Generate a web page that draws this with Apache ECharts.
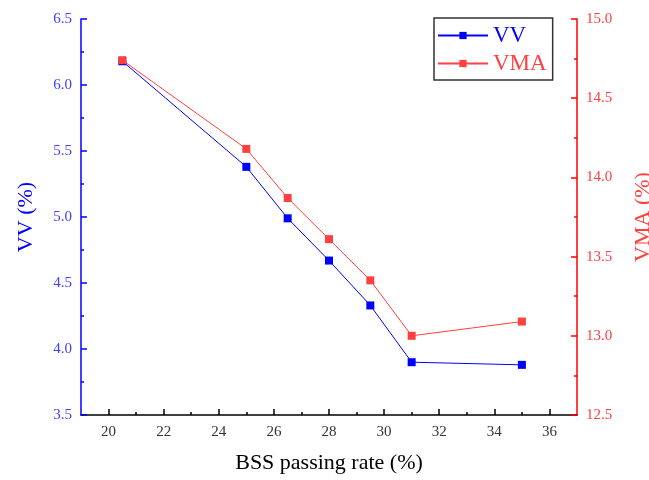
<!DOCTYPE html>
<html>
<head>
<meta charset="utf-8">
<script src="https://cdn.jsdelivr.net/npm/echarts@6/dist/echarts.min.js"></script>
<style>
  html, body { margin: 0; padding: 0; background: #fff; }
  #chart { width: 649px; height: 480px; }
</style>
</head>
<body>
<div id="chart"></div>
<script>
// BSS passing rate (%) and the two measured series
const passRate = [20.5, 25, 26.5, 28, 29.5, 31, 35]
const vv = [6.18, 5.38, 4.99, 4.67, 4.33, 3.90, 3.88]
const vma = [14.74, 14.18, 13.87, 13.61, 13.35, 13.00, 13.09]

const xMajor = [20, 22, 24, 26, 28, 30, 32, 34, 36]
const xMinor = [21, 23, 25, 27, 29, 31, 33, 35]

const BLUE = '#0000ff'
const RED = '#ff4040'
const serif = 'Liberation Serif'

const chart = echarts.init(document.getElementById('chart'))

const pairs = (ys) => passRate.map((x, i) => [x, ys[i]])

chart.setOption({
  animation: false,
  grid: { left: 81, right: 72, top: 19, bottom: 65, containLabel: false, outerBoundsMode: 'none' },
  legend: {
    orient: 'vertical',
    left: 434,
    top: 18,
    itemWidth: 50,
    itemHeight: 9,
    itemGap: 5,
    padding: [6, 6, 5, 3],
    borderColor: '#333',
    borderWidth: 1.5,
    textStyle: { fontFamily: serif, fontSize: 23 },
    data: [
      { name: 'VV', textStyle: { color: BLUE } },
      { name: 'VMA', textStyle: { color: RED } }
    ]
  },
  xAxis: [
    {
      type: 'value',
      min: 19,
      max: 37,
      name: 'BSS passing rate (%)',
      nameLocation: 'middle',
      nameGap: 37,
      nameTextStyle: { fontFamily: serif, fontSize: 22, color: '#000' },
      axisLine: { lineStyle: { color: '#000', width: 1.5 } },
      axisTick: { inside: true, length: 6, customValues: xMajor, lineStyle: { color: '#000', width: 1.5 } },
      axisLabel: { customValues: xMajor, fontFamily: serif, fontSize: 15, color: '#333', margin: 10 },
      splitLine: { show: false }
    },
    {
      type: 'value',
      min: 19,
      max: 37,
      position: 'bottom',
      axisLine: { show: false },
      axisTick: { inside: true, length: 3, customValues: xMinor, lineStyle: { color: '#000', width: 1.5 } },
      axisLabel: { show: false },
      splitLine: { show: false }
    }
  ],
  yAxis: [
    {
      type: 'value',
      position: 'left',
      min: 3.5,
      max: 6.5,
      interval: 0.5,
      name: 'VV (%)',
      nameLocation: 'middle',
      nameRotate: 90,
      nameGap: 44,
      nameTextStyle: { fontFamily: serif, fontSize: 22, color: BLUE },
      axisLine: { show: true, lineStyle: { color: BLUE, width: 1.5 } },
      axisTick: { inside: true, length: 6, lineStyle: { color: BLUE, width: 1.5 } },
      minorTick: { show: true, splitNumber: 2, length: 3, lineStyle: { color: BLUE, width: 1.5 } },
      axisLabel: { fontFamily: serif, fontSize: 15, color: '#4040ff', margin: 9, formatter: v => v.toFixed(1) },
      splitLine: { show: false }
    },
    {
      type: 'value',
      position: 'right',
      min: 12.5,
      max: 15,
      interval: 0.5,
      name: 'VMA (%)',
      nameLocation: 'middle',
      nameRotate: 90,
      nameGap: 55,
      nameTextStyle: { fontFamily: serif, fontSize: 22, color: RED },
      axisLine: { show: true, lineStyle: { color: '#ff0000', width: 1.5 } },
      axisTick: { inside: true, length: 6, lineStyle: { color: '#ff0000', width: 1.5 } },
      minorTick: { show: true, splitNumber: 2, length: 3, lineStyle: { color: '#ff0000', width: 1.5 } },
      axisLabel: { fontFamily: serif, fontSize: 15, color: '#ff4040', margin: 9, formatter: v => v.toFixed(1) },
      splitLine: { show: false }
    }
  ],
  series: [
    {
      name: 'VV',
      type: 'line',
      xAxisIndex: 0,
      yAxisIndex: 0,
      data: pairs(vv),
      symbol: 'rect',
      symbolSize: 8,
      lineStyle: { color: BLUE, width: 1 },
      itemStyle: { color: BLUE }
    },
    {
      name: 'VMA',
      type: 'line',
      xAxisIndex: 0,
      yAxisIndex: 1,
      data: pairs(vma),
      symbol: 'rect',
      symbolSize: 8,
      lineStyle: { color: RED, width: 1 },
      itemStyle: { color: RED }
    }
  ]
})
</script>
</body>
</html>
